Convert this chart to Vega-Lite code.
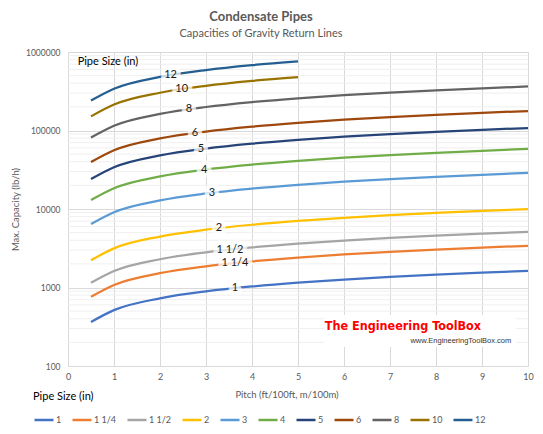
{
  "$schema": "https://vega.github.io/schema/vega-lite/v6.json",
  "width": 460,
  "height": 314,
  "autosize": {"type": "none"},
  "padding": {"left": 68, "top": 52, "right": 15, "bottom": 68},
  "background": "white",
  "config": {
    "font": "Lato",
    "view": {"stroke": null},
    "axis": {"labelFont": "Lato", "titleFont": "Lato"}
  },
  "title": {
    "text": "Condensate Pipes",
    "subtitle": "Capacities of Gravity Return Lines",
    "anchor": "middle",
    "dx": -37,
    "offset": 9,
    "font": "Lato",
    "fontSize": 13,
    "fontWeight": "bold",
    "color": "#595959",
    "subtitleFont": "Lato",
    "subtitleFontSize": 11,
    "subtitleColor": "#595959",
    "subtitlePadding": 4
  },
  "datasets": {
    "pipes": [
      {"size": "1", "pitch": 0.5, "cap": 364}, {"size": "1", "pitch": 1, "cap": 515}, {"size": "1", "pitch": 2, "cap": 728}, {"size": "1", "pitch": 3, "cap": 892}, {"size": "1", "pitch": 4, "cap": 1030}, {"size": "1", "pitch": 5, "cap": 1152}, {"size": "1", "pitch": 6, "cap": 1261}, {"size": "1", "pitch": 7, "cap": 1363}, {"size": "1", "pitch": 8, "cap": 1457}, {"size": "1", "pitch": 9, "cap": 1545}, {"size": "1", "pitch": 10, "cap": 1629},
      {"size": "1 1/4", "pitch": 0.5, "cap": 760}, {"size": "1 1/4", "pitch": 1, "cap": 1075}, {"size": "1 1/4", "pitch": 2, "cap": 1520}, {"size": "1 1/4", "pitch": 3, "cap": 1862}, {"size": "1 1/4", "pitch": 4, "cap": 2150}, {"size": "1 1/4", "pitch": 5, "cap": 2404}, {"size": "1 1/4", "pitch": 6, "cap": 2633}, {"size": "1 1/4", "pitch": 7, "cap": 2844}, {"size": "1 1/4", "pitch": 8, "cap": 3041}, {"size": "1 1/4", "pitch": 9, "cap": 3225}, {"size": "1 1/4", "pitch": 10, "cap": 3399},
      {"size": "1 1/2", "pitch": 0.5, "cap": 1146}, {"size": "1 1/2", "pitch": 1, "cap": 1620}, {"size": "1 1/2", "pitch": 2, "cap": 2291}, {"size": "1 1/2", "pitch": 3, "cap": 2806}, {"size": "1 1/2", "pitch": 4, "cap": 3240}, {"size": "1 1/2", "pitch": 5, "cap": 3622}, {"size": "1 1/2", "pitch": 6, "cap": 3968}, {"size": "1 1/2", "pitch": 7, "cap": 4286}, {"size": "1 1/2", "pitch": 8, "cap": 4582}, {"size": "1 1/2", "pitch": 9, "cap": 4860}, {"size": "1 1/2", "pitch": 10, "cap": 5123},
      {"size": "2", "pitch": 0.5, "cap": 2227}, {"size": "2", "pitch": 1, "cap": 3150}, {"size": "2", "pitch": 2, "cap": 4455}, {"size": "2", "pitch": 3, "cap": 5456}, {"size": "2", "pitch": 4, "cap": 6300}, {"size": "2", "pitch": 5, "cap": 7044}, {"size": "2", "pitch": 6, "cap": 7716}, {"size": "2", "pitch": 7, "cap": 8334}, {"size": "2", "pitch": 8, "cap": 8909}, {"size": "2", "pitch": 9, "cap": 9450}, {"size": "2", "pitch": 10, "cap": 9961},
      {"size": "3", "pitch": 0.5, "cap": 6435}, {"size": "3", "pitch": 1, "cap": 9100}, {"size": "3", "pitch": 2, "cap": 12869}, {"size": "3", "pitch": 3, "cap": 15762}, {"size": "3", "pitch": 4, "cap": 18200}, {"size": "3", "pitch": 5, "cap": 20349}, {"size": "3", "pitch": 6, "cap": 22290}, {"size": "3", "pitch": 7, "cap": 24077}, {"size": "3", "pitch": 8, "cap": 25739}, {"size": "3", "pitch": 9, "cap": 27300}, {"size": "3", "pitch": 10, "cap": 28777},
      {"size": "4", "pitch": 0.5, "cap": 13011}, {"size": "4", "pitch": 1, "cap": 18400}, {"size": "4", "pitch": 2, "cap": 26021}, {"size": "4", "pitch": 3, "cap": 31871}, {"size": "4", "pitch": 4, "cap": 36800}, {"size": "4", "pitch": 5, "cap": 41144}, {"size": "4", "pitch": 6, "cap": 45071}, {"size": "4", "pitch": 7, "cap": 48683}, {"size": "4", "pitch": 8, "cap": 52043}, {"size": "4", "pitch": 9, "cap": 55200}, {"size": "4", "pitch": 10, "cap": 58186},
      {"size": "5", "pitch": 0.5, "cap": 24042}, {"size": "5", "pitch": 1, "cap": 34000}, {"size": "5", "pitch": 2, "cap": 48083}, {"size": "5", "pitch": 3, "cap": 58891}, {"size": "5", "pitch": 4, "cap": 68000}, {"size": "5", "pitch": 5, "cap": 76026}, {"size": "5", "pitch": 6, "cap": 83283}, {"size": "5", "pitch": 7, "cap": 89957}, {"size": "5", "pitch": 8, "cap": 96166}, {"size": "5", "pitch": 9, "cap": 102000}, {"size": "5", "pitch": 10, "cap": 107518},
      {"size": "6", "pitch": 0.5, "cap": 39598}, {"size": "6", "pitch": 1, "cap": 56000}, {"size": "6", "pitch": 2, "cap": 79196}, {"size": "6", "pitch": 3, "cap": 96997}, {"size": "6", "pitch": 4, "cap": 112000}, {"size": "6", "pitch": 5, "cap": 125220}, {"size": "6", "pitch": 6, "cap": 137172}, {"size": "6", "pitch": 7, "cap": 148165}, {"size": "6", "pitch": 8, "cap": 158392}, {"size": "6", "pitch": 9, "cap": 168000}, {"size": "6", "pitch": 10, "cap": 177088},
      {"size": "8", "pitch": 0.5, "cap": 81317}, {"size": "8", "pitch": 1, "cap": 115000}, {"size": "8", "pitch": 2, "cap": 162635}, {"size": "8", "pitch": 3, "cap": 199192}, {"size": "8", "pitch": 4, "cap": 230000}, {"size": "8", "pitch": 5, "cap": 257150}, {"size": "8", "pitch": 6, "cap": 281693}, {"size": "8", "pitch": 7, "cap": 304267}, {"size": "8", "pitch": 8, "cap": 325266}, {"size": "8", "pitch": 9, "cap": 345000}, {"size": "8", "pitch": 10, "cap": 363665},
      {"size": "10", "pitch": 0.5, "cap": 151320}, {"size": "10", "pitch": 1, "cap": 214000}, {"size": "10", "pitch": 2, "cap": 302642}, {"size": "10", "pitch": 3, "cap": 370669}, {"size": "10", "pitch": 4, "cap": 428000}, {"size": "10", "pitch": 5, "cap": 478525},
      {"size": "12", "pitch": 0.5, "cap": 240414}, {"size": "12", "pitch": 1, "cap": 340000}, {"size": "12", "pitch": 2, "cap": 480833}, {"size": "12", "pitch": 3, "cap": 588914}, {"size": "12", "pitch": 4, "cap": 680000}, {"size": "12", "pitch": 5, "cap": 760274}
    ],
    "labels": [
      {"size": "12", "pitch": 2.23, "cap": 507700},
      {"size": "10", "pitch": 2.47, "cap": 336300},
      {"size": "8", "pitch": 2.63, "cap": 186500},
      {"size": "6", "pitch": 2.76, "cap": 93000},
      {"size": "5", "pitch": 2.89, "cap": 57800},
      {"size": "4", "pitch": 2.96, "cap": 31660},
      {"size": "3", "pitch": 3.13, "cap": 16100},
      {"size": "2", "pitch": 3.28, "cap": 5705},
      {"size": "1 1/2", "pitch": 3.52, "cap": 3039},
      {"size": "1 1/4", "pitch": 3.63, "cap": 2048},
      {"size": "1", "pitch": 3.63, "cap": 981}
    ],
    "minor": [
      {"cap": 200}, {"cap": 300}, {"cap": 400}, {"cap": 500}, {"cap": 600}, {"cap": 700}, {"cap": 800}, {"cap": 900},
      {"cap": 2000}, {"cap": 3000}, {"cap": 4000}, {"cap": 5000}, {"cap": 6000}, {"cap": 7000}, {"cap": 8000}, {"cap": 9000},
      {"cap": 20000}, {"cap": 30000}, {"cap": 40000}, {"cap": 50000}, {"cap": 60000}, {"cap": 70000}, {"cap": 80000}, {"cap": 90000},
      {"cap": 200000}, {"cap": 300000}, {"cap": 400000}, {"cap": 500000}, {"cap": 600000}, {"cap": 700000}, {"cap": 800000}, {"cap": 900000}
    ]
  },
  "encoding": {
    "x": {
      "field": "pitch", "type": "quantitative",
      "scale": {"domain": [0, 10], "nice": false, "zero": false},
      "axis": {
        "values": [0, 1, 2, 3, 4, 5, 6, 7, 8, 9, 10],
        "title": "Pitch  (ft/100ft, m/100m)",
        "titleFontSize": 9.5, "titleFontWeight": "normal", "titleColor": "#595959",
        "titlePadding": 8, "titleX": 218.5,
        "labelFontSize": 9, "labelColor": "#595959", "labelPadding": 6, "labelFlush": false,
        "ticks": false, "domain": false,
        "grid": true, "gridColor": "#d9d9d9", "gridWidth": 1
      }
    },
    "y": {
      "field": "cap", "type": "quantitative",
      "scale": {"type": "log", "domain": [100, 1000000], "nice": false},
      "axis": {
        "values": [100, 1000, 10000, 100000, 1000000],
        "format": "d",
        "title": "Max. Capacity (lb/h)",
        "titleFontSize": 9.5, "titleFontWeight": "normal", "titleColor": "#595959",
        "titlePadding": 5,
        "labelFontSize": 8.5, "labelColor": "#595959", "labelPadding": 8, "labelFlush": false,
        "ticks": false, "domain": false,
        "grid": true, "gridColor": "#d9d9d9", "gridWidth": 1
      }
    }
  },
  "layer": [
    {
      "data": {"name": "minor"},
      "mark": {"type": "rule", "color": "#efefef", "strokeWidth": 1},
      "encoding": {"x": null}
    },
    {
      "data": {"name": "pipes"},
      "mark": {"type": "line", "interpolate": "monotone", "strokeWidth": 2.25},
      "encoding": {
        "color": {
          "field": "size", "type": "nominal",
          "scale": {
            "domain": ["1", "1 1/4", "1 1/2", "2", "3", "4", "5", "6", "8", "10", "12"],
            "range": ["#4472C4", "#ED7D31", "#A5A5A5", "#FFC000", "#5B9BD5", "#70AD47", "#264478", "#9E480E", "#636363", "#997300", "#255E91"]
          },
          "legend": {
            "title": "Pipe Size (in)",
            "orient": "none",
            "direction": "horizontal",
            "columns": 11,
            "gridAlign": "each",
            "legendX": -35,
            "legendY": 339,
            "padding": 0,
            "titleFont": "Lato", "titleFontSize": 11, "titleFontWeight": "normal", "titleColor": "#000000",
            "titlePadding": 7,
            "labelFont": "Lato", "labelFontSize": 9, "labelColor": "#595959",
            "labelOffset": 1,
            "symbolType": "stroke", "symbolSize": 361, "symbolStrokeWidth": 2.5,
            "columnPadding": 5
          }
        },
        "order": {"field": "pitch", "type": "quantitative"}
      }
    },
    {
      "data": {"values": [{"t": "Pipe Size (in)", "pitch": 0.21, "cap": 738000}]},
      "mark": {"type": "text", "align": "left", "baseline": "middle", "fontSize": 11, "font": "Lato", "color": "#000000"},
      "encoding": {"text": {"field": "t"}}
    },
    {
      "data": {"values": [{"pitch": 7.663, "cap": 278.7}]},
      "mark": {"type": "point", "shape": "M-2.4,-0.4H2.4V0.4H-2.4Z", "size": 6400, "filled": true, "color": "white", "opacity": 1}
    },
    {
      "data": {"values": [{"t": "The Engineering ToolBox", "pitch": 7.28, "cap": 324.6}]},
      "mark": {"type": "text", "align": "center", "baseline": "middle", "font": "DejaVu Sans Condensed, DejaVu Sans, sans-serif", "fontWeight": "bold", "fontSize": 12.5, "color": "#ff0000"},
      "encoding": {"text": {"field": "t"}}
    },
    {
      "data": {"values": [{"t": "www.EngineeringToolBox.com", "pitch": 8.54, "cap": 210}]},
      "mark": {"type": "text", "align": "center", "baseline": "middle", "font": "Liberation Sans", "fontSize": 7.5, "color": "#333333"},
      "encoding": {"text": {"field": "t"}}
    },
    {
      "data": {"name": "labels"},
      "mark": {"type": "text", "align": "center", "baseline": "middle", "font": "Lato", "fontSize": 11, "fill": "white", "stroke": "white", "strokeWidth": 9, "strokeJoin": "round", "opacity": 0.75},
      "encoding": {"text": {"field": "size"}}
    },
    {
      "data": {"name": "labels"},
      "mark": {"type": "text", "align": "center", "baseline": "middle", "font": "Lato", "fontSize": 11, "color": "#1a1a1a"},
      "encoding": {"text": {"field": "size"}}
    }
  ]
}
